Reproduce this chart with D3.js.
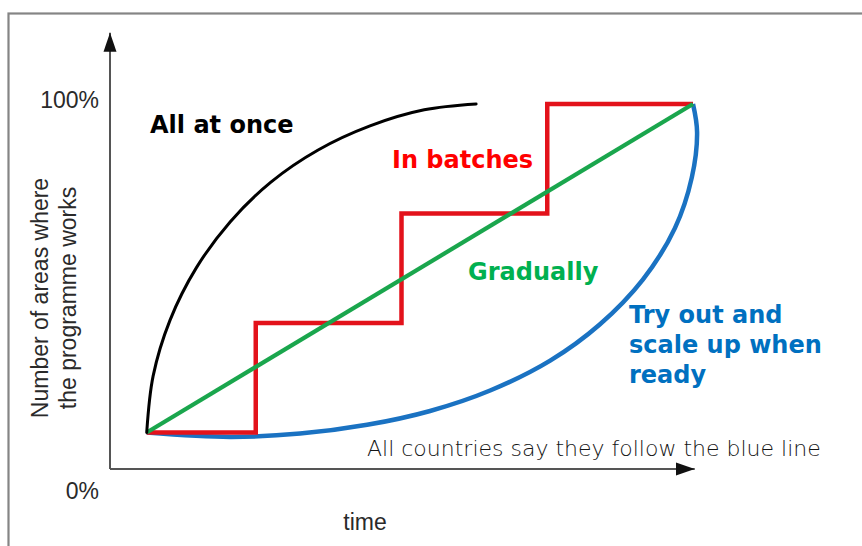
<!DOCTYPE html>
<html>
<head>
<meta charset="utf-8">
<script src="https://cdn.jsdelivr.net/npm/d3@7"></script>
<style>
  body { margin: 0; background: #fff; }
  svg { display: block; }
</style>
</head>
<body>
<div id="chart"></div>
<script>
"use strict";

// values: x = time (0..100), y = % of areas (0..100)
const onceX = [6.3, 7.4, 10.3, 14.8, 20.6, 27.6, 35.7, 44.6, 53.9, 62.8];
const onceY = [10, 25.5, 40.8, 55.1, 67.7, 78.6, 87.4, 94.0, 98.4, 100];
const batchX = [6.3, 25, 50, 75, 100];
const batchY = [10, 40, 70, 100, 100];
const gradX = [6.3, 100];
const gradY = [10, 100];
const tryX = [6.3, 20.6, 32.6, 44.1, 54.9, 65.2, 75.5, 84.0, 91.4, 96.9, 99.8, 100.7, 100];
const tryY = [10, 8.8, 9.7, 12.1, 15.9, 21.5, 29.7, 39.6, 51.9, 66.0, 79.9, 92.3, 100];

const yTicks = [0, 100];
const yTickLabels = ["0%", "100%"];
const yTitle = ["Number of areas where", "the programme works"];
const xTitle = "time";
const tryLabel = ["Try out and", "scale up when", "ready"];
const note = "All countries say they follow the blue line";

const msm = {
    width: 862,
    height: 546
};

const svg = d3.select("#chart")
    .append("svg")
    .attr("width", msm.width)
    .attr("height", msm.height);

svg.append("rect")
    .attr("width", msm.width)
    .attr("height", msm.height)
    .attr("fill", "#fff");

// grey frame (right and bottom edges run off the picture)
svg.append("rect")
    .attr("x", 8.5)
    .attr("y", 13.5)
    .attr("width", 900)
    .attr("height", 600)
    .attr("fill", "none")
    .attr("stroke", "#858585")
    .attr("stroke-width", 2.2);

const xScale = d3.scaleLinear().domain([0, 100]).range([110, 693]);
const yScale = d3.scaleLinear().domain([0, 100]).range([469, 104]);

// arrow head
svg.append("defs").append("marker")
    .attr("id", "arrow")
    .attr("markerUnits", "userSpaceOnUse")
    .attr("viewBox", "0 -7 20 14")
    .attr("refX", 19)
    .attr("refY", 0)
    .attr("markerWidth", 20)
    .attr("markerHeight", 14)
    .attr("orient", "auto")
    .append("path")
    .attr("d", "M0,-6.5L19,0L0,6.5Z")
    .attr("fill", "#111");

// axes
svg.append("line")
    .attr("x1", xScale(0)).attr("y1", yScale(0))
    .attr("x2", xScale(0)).attr("y2", yScale(119.5))
    .attr("stroke", "#555").attr("stroke-width", 2)
    .attr("marker-end", "url(#arrow)");
svg.append("line")
    .attr("x1", xScale(0)).attr("y1", yScale(0))
    .attr("x2", xScale(100.3)).attr("y2", yScale(0))
    .attr("stroke", "#555").attr("stroke-width", 2)
    .attr("marker-end", "url(#arrow)");

// tick labels (0% sits below the time axis in the original)
svg.selectAll(".ytick")
    .data(yTicks)
    .enter()
    .append("text")
    .attr("class", "ytick")
    .attr("x", 99)
    .attr("y", (d) => d === 0 ? yScale(d) + 30 : yScale(d) + 4)
    .attr("text-anchor", "end")
    .style("font-family", "'Liberation Sans', Arial, sans-serif")
    .style("font-size", "23px")
    .style("fill", "#2a2a2a")
    .text((d, i) => yTickLabels[i]);

svg.append("text")
    .attr("x", 365)
    .attr("y", 530)
    .attr("text-anchor", "middle")
    .style("font-family", "'Liberation Sans', Arial, sans-serif")
    .style("font-size", "23px")
    .style("fill", "#2a2a2a")
    .text(xTitle);

svg.selectAll(".ytitle")
    .data(yTitle)
    .enter()
    .append("text")
    .attr("class", "ytitle")
    .attr("transform", (d, i) => "translate(" + (48 + i * 28) + ",298) rotate(-90)")
    .attr("text-anchor", "middle")
    .style("font-family", "'Liberation Sans', Arial, sans-serif")
    .style("font-size", "23px")
    .style("fill", "#2a2a2a")
    .text((d) => d);

// series
function pts(xs, ys) {
    return xs.map((x, i) => [xScale(x), yScale(ys[i])]);
}

const smooth = d3.line().curve(d3.curveCatmullRom.alpha(0.5));
const steps = d3.line().curve(d3.curveStepAfter);
const straight = d3.line();

svg.append("path")
    .attr("d", smooth(pts(tryX, tryY)))
    .attr("fill", "none")
    .attr("stroke", "#1a72c2")
    .attr("stroke-width", 4.5);

svg.append("path")
    .attr("d", steps(pts(batchX, batchY)))
    .attr("fill", "none")
    .attr("stroke", "#e3121b")
    .attr("stroke-width", 4.5);

svg.append("path")
    .attr("d", straight(pts(gradX, gradY)))
    .attr("fill", "none")
    .attr("stroke", "#1aa64d")
    .attr("stroke-width", 4.2);

svg.append("path")
    .attr("d", smooth(pts(onceX, onceY)))
    .attr("fill", "none")
    .attr("stroke", "#000")
    .attr("stroke-width", 3)
    .attr("stroke-linecap", "round");

// series labels
function boldLabel(x, y, txt, color) {
    svg.append("text")
        .attr("x", x)
        .attr("y", y)
        .style("font-family", "'DejaVu Sans', Verdana, sans-serif")
        .style("font-weight", "bold")
        .style("font-size", "24px")
        .style("fill", color)
        .text(txt);
}

boldLabel(150, 133, "All at once", "#000");
boldLabel(392, 168, "In batches", "#ff0000");
boldLabel(468, 280, "Gradually", "#00b050");
tryLabel.forEach((t, i) => boldLabel(629, 323 + i * 30, t, "#0070c0"));

svg.append("text")
    .attr("x", 367)
    .attr("y", 456)
    .style("font-family", "'DejaVu Sans', Verdana, sans-serif")
    .style("font-weight", "200")
    .style("font-size", "22px")
    .style("fill", "#151515")
    .text(note);
</script>
</body>
</html>
